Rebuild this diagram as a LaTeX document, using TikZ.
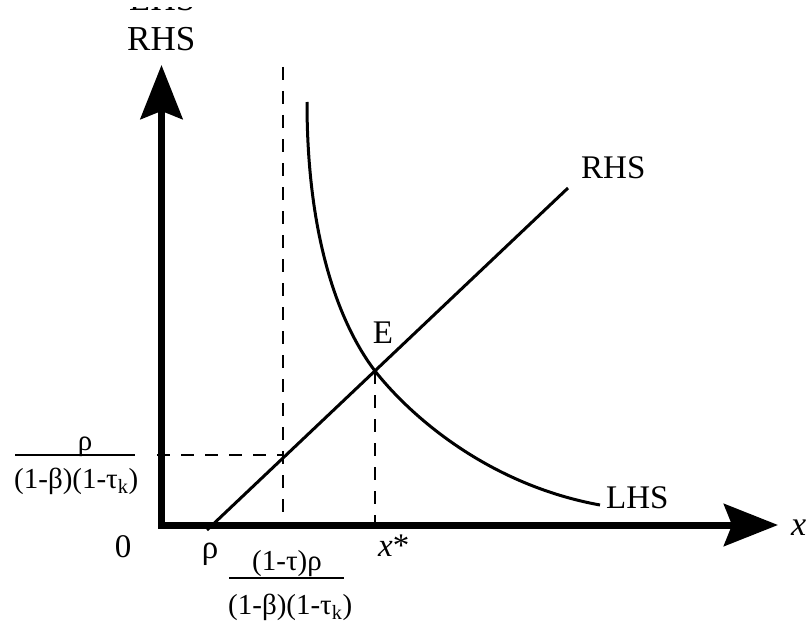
\documentclass[tikz,border=0pt]{standalone}
\usepackage{fontspec}
\setmainfont{Liberation Serif}
\usetikzlibrary{arrows.meta}
\tikzset{
  axisline/.style={line width=7pt,-{Stealth[length=54pt,width=42pt,inset=8pt]}},
  curveline/.style={line width=3pt},
  guide/.style={line width=1.4pt,dash pattern=on 13pt off 11pt},
  lbl/.style={inner sep=0pt,font=\fontsize{33}{36}\selectfont},
  frc/.style={inner sep=0pt,font=\fontsize{29}{32}\selectfont},
  fbar/.style={line width=2.2pt}
}
\begin{document}
\begin{tikzpicture}[x=1pt,y=-1pt]
\useasboundingbox (0,0) rectangle (812,626);
% coordinates
\coordinate (O) at (161.5,528.5);
\coordinate (Xs) at (158,525);
\coordinate (Ytip) at (161.5,65);
\coordinate (Xtip) at (778,525);
\coordinate (E) at (375,371);
\coordinate (R0) at (207,530);
\coordinate (R1) at (568,188);
\coordinate (Dtop) at (283,67);
\coordinate (Dbot) at (283,525);
\coordinate (Hl) at (157,455);
\coordinate (Hr) at (283,455);
\coordinate (Ebot) at (375,525);
\coordinate (Ltop) at (307,102);
\coordinate (Lend) at (600,505);
% axes
\draw[axisline] (O) -- (Ytip);
\draw[axisline] (Xs) -- (Xtip);
% guides
\draw[guide] (Dtop) -- (Dbot);
\draw[guide] (Hl) -- (Hr);
\draw[guide] (E) -- (Ebot);
% RHS line
\draw[curveline] (R0) -- (R1);
% LHS curve
\draw[curveline] (Ltop) .. controls (307,240) and (340,325) .. (E)
                        .. controls (412,418) and (490,485) .. (Lend);
% labels
\node[lbl,anchor=base] (Elbl) at (383,343) {E};
\node[lbl,anchor=base west] (rhslbl) at (581,178) {RHS};
\node[lbl,anchor=base west] (lhslbl) at (606,508) {LHS};
\node[lbl,anchor=base west,font=\fontsize{34}{38}\selectfont] (xlbl) at (791,535) {\textit{x}};
\node[lbl,anchor=base] (zero) at (123,557) {0};
\node[lbl,anchor=base] (rho) at (210,558) {ρ};
\node[lbl,anchor=base west] (xstar) at (378,556) {\textit{x}*};
% top axis label
\node[lbl,anchor=base west,font=\fontsize{35}{38}\selectfont] (ytop) at (127,51) {RHS};
\begin{scope}
\clip (100,7.5) rectangle (260,20);
\node[lbl,anchor=base west,font=\fontsize{35}{38}\selectfont] (ylhs) at (129,11) {LHS};
\end{scope}
% left fraction
\node[frc,anchor=base] (lnum) at (85,450) {ρ};
\draw[fbar] (15,455) -- (135,455);
\node[frc,anchor=base west] (lden) at (14,488) {(1-β)(1-τ\textsubscript{k})};
% bottom fraction
\node[frc,anchor=base] (bnum) at (287,570) {(1-τ)ρ};
\draw[fbar] (229,578) -- (344,578);
\node[frc,anchor=base west] (bden) at (228,614) {(1-β)(1-τ\textsubscript{k})};
\end{tikzpicture}
\end{document}
